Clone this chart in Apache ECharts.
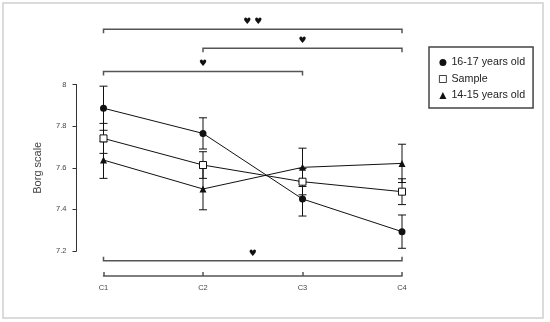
<!DOCTYPE html>
<html>
<head>
<meta charset="utf-8">
<script src="https://cdn.jsdelivr.net/npm/echarts@6/dist/echarts.min.js"></script>
<style>
html, body { margin: 0; padding: 0; background: #fff; }
#chart { width: 550px; height: 322px; }
</style>
</head>
<body>
<div id="chart"></div>
<script>
// categories and tick labels
var categories = ['C1', 'C2', 'C3', 'C4'];
var yTicks = [7.2, 7.4, 7.6, 7.8, 8];

// group means and error bar half-widths
var old1617 = [7.886, 7.765, 7.450, 7.293];
var old1617Err = [0.106, 0.075, 0.082, 0.080];
var sample = [7.741, 7.613, 7.533, 7.485];
var sampleErr = [0.072, 0.064, 0.063, 0.062];
var old1415 = [7.637, 7.498, 7.602, 7.621];
var old1415Err = [0.088, 0.100, 0.092, 0.092];

// significance brackets: from category, to category, level (Borg units), tick direction, mark
var bracketFrom = [0, 1, 0, 0];
var bracketTo = [3, 3, 2, 3];
var bracketLevel = [8.265, 8.174, 8.062, 7.153];
var bracketDir = [1, 1, 1, -1];
var bracketMark = ['\u2665 \u2665', '\u2665', '\u2665', '\u2665'];

var FONT = 'Liberation Sans, Arial, sans-serif';

function errData(vals, errs) {
  return vals.map(function (v, i) { return [i, v, errs[i]]; });
}

// error bars: vertical line and two caps
function renderErr(params, api) {
  var x = api.value(0), v = api.value(1), e = api.value(2);
  var top = api.coord([x, v + e]);
  var bot = api.coord([x, v - e]);
  var cap = 4;
  var style = { stroke: '#111', lineWidth: 1 };
  return {
    type: 'group',
    children: [
      { type: 'line', shape: { x1: top[0], y1: top[1], x2: bot[0], y2: bot[1] }, style: style },
      { type: 'line', shape: { x1: top[0] - cap, y1: top[1], x2: top[0] + cap, y2: top[1] }, style: style },
      { type: 'line', shape: { x1: bot[0] - cap, y1: bot[1], x2: bot[0] + cap, y2: bot[1] }, style: style }
    ]
  };
}

function renderBracket(params, api) {
  var i = params.dataIndex;
  var a = api.coord([api.value(0), api.value(2)]);
  var b = api.coord([api.value(1), api.value(2)]);
  var d = api.value(3) * 4;
  var midX = (a[0] + b[0]) / 2;
  return {
    type: 'group',
    children: [
      {
        type: 'polyline',
        shape: { points: [[a[0], a[1] + d], [a[0], a[1]], [b[0], b[1]], [b[0], b[1] + d]] },
        style: { stroke: '#555', lineWidth: 1.5, fill: null }
      },
      {
        type: 'text',
        x: midX, y: a[1] - 7.5,
        style: {
          text: bracketMark[i], fill: '#111', font: '9px DejaVu Sans',
          align: 'center', verticalAlign: 'middle'
        }
      }
    ]
  };
}

var bracketData = bracketFrom.map(function (f, i) {
  return [f, bracketTo[i], bracketLevel[i], bracketDir[i]];
});

var chart = echarts.init(document.getElementById('chart'));
var option = {
  animation: false,
  backgroundColor: '#fff',
  textStyle: { fontFamily: FONT },
  graphic: [{
    type: 'rect',
    shape: { x: 3, y: 3, width: 540, height: 315 },
    style: { fill: null, stroke: '#d0d0d0', lineWidth: 1.5 },
    silent: true
  }],
  grid: { left: 103.5, right: 148, top: 84.5, bottom: 71 },
  legend: {
    orient: 'vertical',
    left: 429,
    top: 47,
    borderColor: '#444',
    borderWidth: 1.5,
    padding: [10, 8, 7, 10],
    itemGap: 5.5,
    itemWidth: 7,
    itemHeight: 7,
    textStyle: { fontSize: 10.7, color: '#222', fontFamily: FONT },
    data: [
      { name: '16-17 years old', icon: 'circle' },
      { name: 'Sample', icon: 'rect', itemStyle: { color: '#fff', borderColor: '#111', borderWidth: 0.8 } },
      { name: '14-15 years old', icon: 'triangle' }
    ]
  },
  xAxis: {
    type: 'category',
    data: categories,
    boundaryGap: false,
    offset: 25,
    axisLine: { lineStyle: { color: '#555', width: 1.5 } },
    axisTick: { inside: true, length: 4, lineStyle: { color: '#555', width: 1.5 } },
    axisLabel: { fontSize: 7.5, color: '#444', margin: 8 },
    splitLine: { show: false }
  },
  yAxis: {
    type: 'value',
    min: 7.2,
    max: 8,
    interval: 0.2,
    offset: 27,
    name: 'Borg scale',
    nameLocation: 'middle',
    nameGap: 33,
    nameTextStyle: { fontSize: 11, color: '#444' },
    axisLine: { show: true, lineStyle: { color: '#333', width: 1 } },
    axisTick: { show: true, length: 4, lineStyle: { color: '#333' } },
    axisLabel: {
      fontSize: 7.5, color: '#444', margin: 10,
      formatter: function (v) {
        var t = yTicks.filter(function (k) { return Math.abs(k - v) < 1e-6; })[0];
        return t === 8 ? '8' : t.toFixed(1);
      }
    },
    splitLine: { show: false }
  },
  series: [
    { type: 'custom', renderItem: renderErr, data: errData(old1617, old1617Err), encode: { x: 0, y: 1 }, z: 1, silent: true },
    { type: 'custom', renderItem: renderErr, data: errData(sample, sampleErr), encode: { x: 0, y: 1 }, z: 1, silent: true },
    { type: 'custom', renderItem: renderErr, data: errData(old1415, old1415Err), encode: { x: 0, y: 1 }, z: 1, silent: true },
    { type: 'custom', renderItem: renderBracket, data: bracketData, encode: { x: [0, 1], y: 2 }, clip: false, z: 1, silent: true },
    {
      name: '16-17 years old', type: 'line', data: old1617, z: 3,
      symbol: 'circle', symbolSize: 7,
      itemStyle: { color: '#111' },
      lineStyle: { color: '#111', width: 1 }
    },
    {
      name: 'Sample', type: 'line', data: sample, z: 3,
      symbol: 'rect', symbolSize: 7,
      itemStyle: { color: '#fff', borderColor: '#111', borderWidth: 1 },
      lineStyle: { color: '#111', width: 1 }
    },
    {
      name: '14-15 years old', type: 'line', data: old1415, z: 3,
      symbol: 'triangle', symbolSize: 7,
      itemStyle: { color: '#111' },
      lineStyle: { color: '#111', width: 1 }
    }
  ]
};
chart.setOption(option);
</script>
</body>
</html>
